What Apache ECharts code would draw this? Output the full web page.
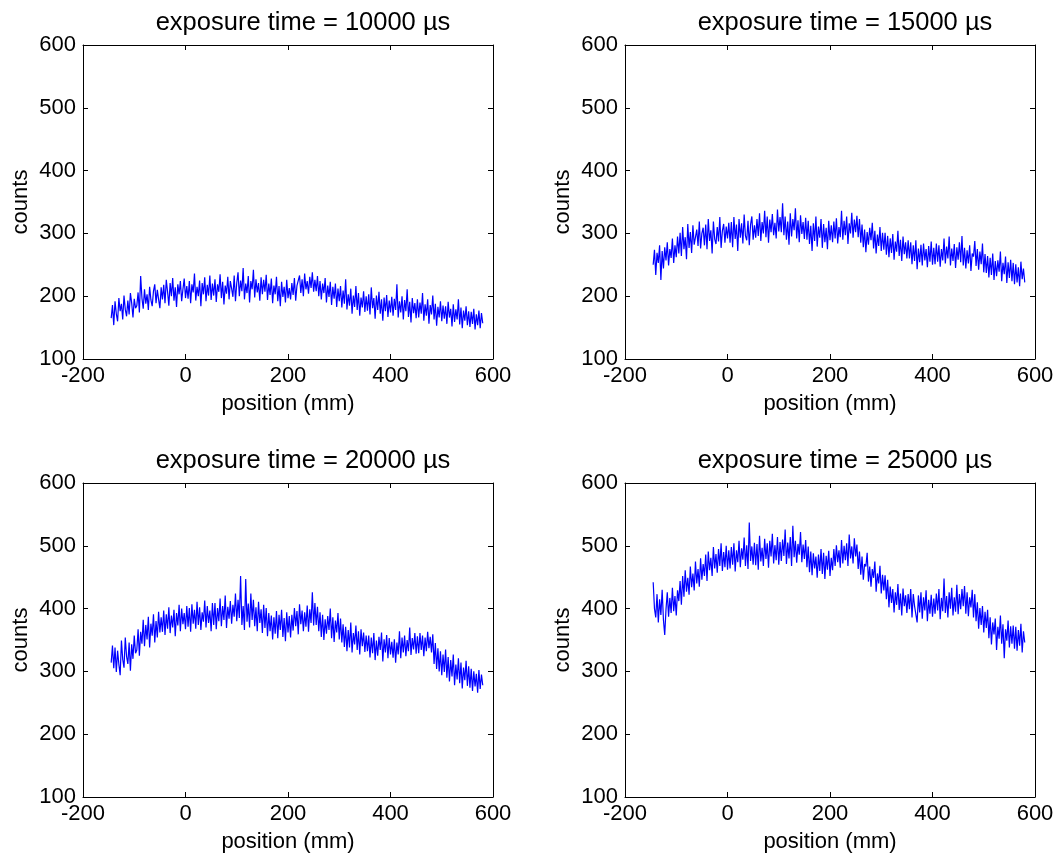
<!DOCTYPE html>
<html>
<head>
<meta charset="utf-8">
<script src="https://cdn.jsdelivr.net/npm/echarts@6/dist/echarts.min.js"></script>
<style>
html,body{margin:0;padding:0;background:#fff;}
#c{width:1058px;height:859px;}
</style>
</head>
<body>
<div id="c"></div>
<script>
// x positions (mm)
const positions = [
-145,-142.5,-140,-137.5,-135,-132.5,-130,-127.5,-125,-122.5,-120,-117.5,-115,-112.5,-110,-107.5,-105,-102.5,-100,-97.5,
-95,-92.5,-90,-87.5,-85,-82.5,-80,-77.5,-75,-72.5,-70,-67.5,-65,-62.5,-60,-57.5,-55,-52.5,-50,-47.5,
-45,-42.5,-40,-37.5,-35,-32.5,-30,-27.5,-25,-22.5,-20,-17.5,-15,-12.5,-10,-7.5,-5,-2.5,0,2.5,
5,7.5,10,12.5,15,17.5,20,22.5,25,27.5,30,32.5,35,37.5,40,42.5,45,47.5,50,52.5,
55,57.5,60,62.5,65,67.5,70,72.5,75,77.5,80,82.5,85,87.5,90,92.5,95,97.5,100,102.5,
105,107.5,110,112.5,115,117.5,120,122.5,125,127.5,130,132.5,135,137.5,140,142.5,145,147.5,150,152.5,
155,157.5,160,162.5,165,167.5,170,172.5,175,177.5,180,182.5,185,187.5,190,192.5,195,197.5,200,202.5,
205,207.5,210,212.5,215,217.5,220,222.5,225,227.5,230,232.5,235,237.5,240,242.5,245,247.5,250,252.5,
255,257.5,260,262.5,265,267.5,270,272.5,275,277.5,280,282.5,285,287.5,290,292.5,295,297.5,300,302.5,
305,307.5,310,312.5,315,317.5,320,322.5,325,327.5,330,332.5,335,337.5,340,342.5,345,347.5,350,352.5,
355,357.5,360,362.5,365,367.5,370,372.5,375,377.5,380,382.5,385,387.5,390,392.5,395,397.5,400,402.5,
405,407.5,410,412.5,415,417.5,420,422.5,425,427.5,430,432.5,435,437.5,440,442.5,445,447.5,450,452.5,
455,457.5,460,462.5,465,467.5,470,472.5,475,477.5,480,482.5,485,487.5,490,492.5,495,497.5,500,502.5,
505,507.5,510,512.5,515,517.5,520,522.5,525,527.5,530,532.5,535,537.5,540,542.5,545,547.5,550,552.5,
555,557.5,560,562.5,565,567.5,570,572.5,575,577.5,580];

const counts10000 = [
165,186,154,192,172,160,197,176,188,163,201,179,168,193,171,205,189,166,196,181,
185,206,174,232,197,180,211,188,203,178,215,194,184,208,219,189,210,195,181,214,
195,218,189,226,207,185,221,200,229,193,214,183,219,203,224,192,211,228,197,216,
196,224,189,219,206,236,193,215,200,225,184,221,203,230,192,218,201,233,194,220,
201,227,191,219,207,235,197,223,187,217,204,231,195,224,212,199,233,192,221,238,
200,225,208,245,195,220,205,232,190,224,211,242,198,227,206,221,193,230,203,226,
207,234,194,220,202,228,189,217,203,231,192,216,184,223,199,215,190,226,197,213,
195,221,202,229,193,217,216,233,205,227,200,236,211,224,204,231,213,238,207,226,
208,232,200,224,195,220,205,229,190,217,199,223,186,215,196,220,183,212,192,216,
182,209,188,227,179,203,185,212,172,201,183,216,178,205,169,198,182,208,175,200,
177,203,171,214,181,197,164,201,178,207,172,195,161,198,176,202,167,193,174,199,
169,196,178,219,166,192,174,200,163,194,176,211,167,191,158,197,173,189,165,195,
166,190,172,205,161,187,169,195,156,186,171,201,163,188,153,183,166,192,160,185,
164,184,156,191,166,180,152,187,159,179,163,195,155,182,149,177,161,184,154,176,
151,175,156,180,147,171,154,177,149,173,157];

const counts15000 = [
250,274,234,269,253,281,226,272,244,278,257,286,249,275,261,292,253,281,262,295,
268,301,264,310,275,294,259,315,277,302,269,313,282,284,306,280,319,276,300,309,
281,314,275,323,288,305,268,319,291,283,310,287,326,277,304,315,285,311,292,317,
285,318,278,326,291,314,272,323,293,316,284,330,296,289,320,281,314,327,290,313,
293,323,296,332,288,318,300,336,294,327,285,322,302,331,297,317,292,338,303,326,
302,348,297,327,290,319,282,332,295,323,305,340,292,321,286,329,299,318,291,325,
290,320,283,312,272,316,288,327,279,311,293,323,277,315,286,309,275,320,289,313,
286,319,292,324,284,310,294,336,290,320,297,327,283,316,300,333,293,322,302,328,
294,323,285,314,278,306,270,302,282,309,289,317,276,304,268,298,280,310,272,301,
274,301,266,296,262,292,269,299,258,287,271,304,264,290,256,295,267,286,260,289,
260,286,251,281,256,289,243,276,254,282,249,284,257,275,246,280,255,287,250,277,
251,284,255,281,247,275,257,292,252,279,260,295,249,276,256,283,245,278,258,286,
254,296,249,277,244,273,252,281,240,268,263,288,248,275,242,271,251,284,238,267,
237,264,230,261,234,268,226,256,232,257,239,271,224,253,235,263,221,254,229,258,
224,253,219,251,222,246,216,255,227,244,222];

const counts20000 = [
314,341,305,338,299,333,311,294,349,319,306,354,324,312,346,301,343,320,357,329,
334,367,325,363,344,382,340,374,351,387,338,376,357,391,346,380,354,395,362,386,
363,397,358,391,368,402,361,389,370,398,356,393,373,406,364,400,375,393,367,404,
371,401,363,407,376,398,368,411,374,402,366,394,379,413,370,404,377,397,364,409,
374,409,367,401,380,416,372,404,382,421,369,403,384,412,376,406,387,424,380,414,
385,452,374,404,366,447,379,408,370,424,382,414,372,402,364,411,377,399,361,406,
369,401,356,393,364,389,351,386,360,396,353,390,366,398,355,385,348,394,362,388,
354,390,365,401,372,396,359,407,375,397,364,394,371,405,363,399,377,426,373,409,
374,403,364,394,355,390,350,383,360,388,366,400,353,386,347,381,362,393,351,384,
346,375,339,371,332,366,338,378,330,361,343,373,334,364,327,367,340,362,331,357,
332,357,322,354,329,361,318,349,325,355,334,362,316,351,330,358,321,353,327,347,
322,351,314,346,327,364,321,354,330,357,324,350,332,370,326,353,335,361,328,356,
329,361,334,357,324,354,332,363,337,355,330,359,312,345,304,337,300,332,294,327,
299,335,290,323,284,318,292,327,278,311,287,321,281,314,273,306,286,317,277,308,
274,304,269,300,276,296,266,302,272,295,278];

const counts25000 = [
442,400,386,423,378,415,390,430,382,358,399,426,387,417,393,433,396,420,389,429,
412,444,406,452,419,461,427,449,422,467,434,456,429,475,440,463,435,480,446,471,
452,486,444,491,461,481,452,498,464,487,457,495,468,504,460,490,466,500,462,493,
464,498,470,504,459,493,474,508,466,496,478,513,468,501,463,537,476,499,470,505,
469,503,462,516,475,497,468,511,479,504,465,508,483,519,472,501,477,514,470,506,
476,510,484,526,471,505,480,514,468,532,482,508,473,503,486,522,474,502,479,509,
466,499,458,491,453,488,464,483,449,486,460,495,455,489,447,484,462,492,452,481,
461,495,468,501,474,493,465,509,472,500,477,504,468,518,480,499,472,512,483,502,
463,491,454,483,446,471,467,489,443,467,435,463,449,475,427,456,440,468,424,454,
429,453,415,446,402,435,409,431,394,426,406,439,398,424,389,432,404,421,393,423,
399,431,386,423,404,407,378,421,394,426,384,418,397,429,380,414,392,422,387,416,
392,424,397,431,383,417,396,448,393,420,386,426,400,433,389,418,395,438,391,423,
399,431,404,436,392,426,388,418,402,430,386,423,380,410,368,401,374,404,362,395,
369,398,353,386,343,378,359,384,334,371,352,389,344,375,321,367,349,381,338,372,
344,373,336,371,333,366,341,376,330,364,346];

const titles = ['exposure time = 10000 µs','exposure time = 15000 µs','exposure time = 20000 µs','exposure time = 25000 µs'];
const seriesData = [counts10000, counts15000, counts20000, counts25000];
const xTicks = [-200, 0, 200, 400, 600];
const yTicks = [100, 200, 300, 400, 500, 600];
const xLabel = 'position (mm)';
const yLabel = 'counts';

const FONT = '"Liberation Sans", Arial, sans-serif';
const gridPos = [
  {left: 83, top: 45}, {left: 625, top: 45},
  {left: 83, top: 483}, {left: 625, top: 483}
];
const W = 410, H = 314;

const grids = [], xAxes = [], yAxes = [], series = [], tt = [];
gridPos.forEach((g, i) => {
  grids.push({left: g.left, top: g.top, width: W, height: H, containLabel: false});
  tt.push({
    text: titles[i], left: g.left + W / 2 + 10, top: g.top - 40, textAlign: 'center',
    textStyle: {fontFamily: FONT, fontSize: 25.5, fontWeight: 'normal', color: '#000'}
  });
  const axLine = {show: true, onZero: false, lineStyle: {color: '#000', width: 1}};
  const tick = {show: true, inside: true, length: 5, lineStyle: {color: '#000', width: 1}};
  xAxes.push({
    gridIndex: i, type: 'value', min: xTicks[0], max: xTicks[xTicks.length - 1], interval: 200,
    position: 'bottom', axisLine: axLine, axisTick: tick, splitLine: {show: false},
    axisLabel: {fontFamily: FONT, fontSize: 22, color: '#000', margin: 6},
    name: xLabel, nameLocation: 'middle', nameGap: 34,
    nameTextStyle: {fontFamily: FONT, fontSize: 22, color: '#000'}
  });
  xAxes.push({
    gridIndex: i, type: 'value', min: xTicks[0], max: xTicks[xTicks.length - 1], interval: 200,
    position: 'top', axisLine: axLine, axisTick: tick, splitLine: {show: false},
    axisLabel: {show: false}
  });
  yAxes.push({
    gridIndex: i, type: 'value', min: yTicks[0], max: yTicks[yTicks.length - 1], interval: 100,
    position: 'left', axisLine: axLine, axisTick: tick, splitLine: {show: false},
    axisLabel: {fontFamily: FONT, fontSize: 22, color: '#000', margin: 7},
    name: yLabel, nameLocation: 'middle', nameGap: 51, nameRotate: 90,
    nameTextStyle: {fontFamily: FONT, fontSize: 22, color: '#000'}
  });
  yAxes.push({
    gridIndex: i, type: 'value', min: yTicks[0], max: yTicks[yTicks.length - 1], interval: 100,
    position: 'right', axisLine: axLine, axisTick: tick, splitLine: {show: false},
    axisLabel: {show: false}
  });
  series.push({
    type: 'line', xAxisIndex: 2 * i, yAxisIndex: 2 * i,
    data: positions.map((x, k) => [x, seriesData[i][k]]),
    showSymbol: false, symbol: 'none', animation: false,
    lineStyle: {color: '#0000ff', width: 1.2}
  });
});

const chart = echarts.init(document.getElementById('c'), null, {renderer: 'canvas'});
chart.setOption({
  backgroundColor: '#fff',
  animation: false,
  title: tt,
  grid: grids,
  xAxis: xAxes,
  yAxis: yAxes,
  series: series
});
</script>
</body>
</html>
